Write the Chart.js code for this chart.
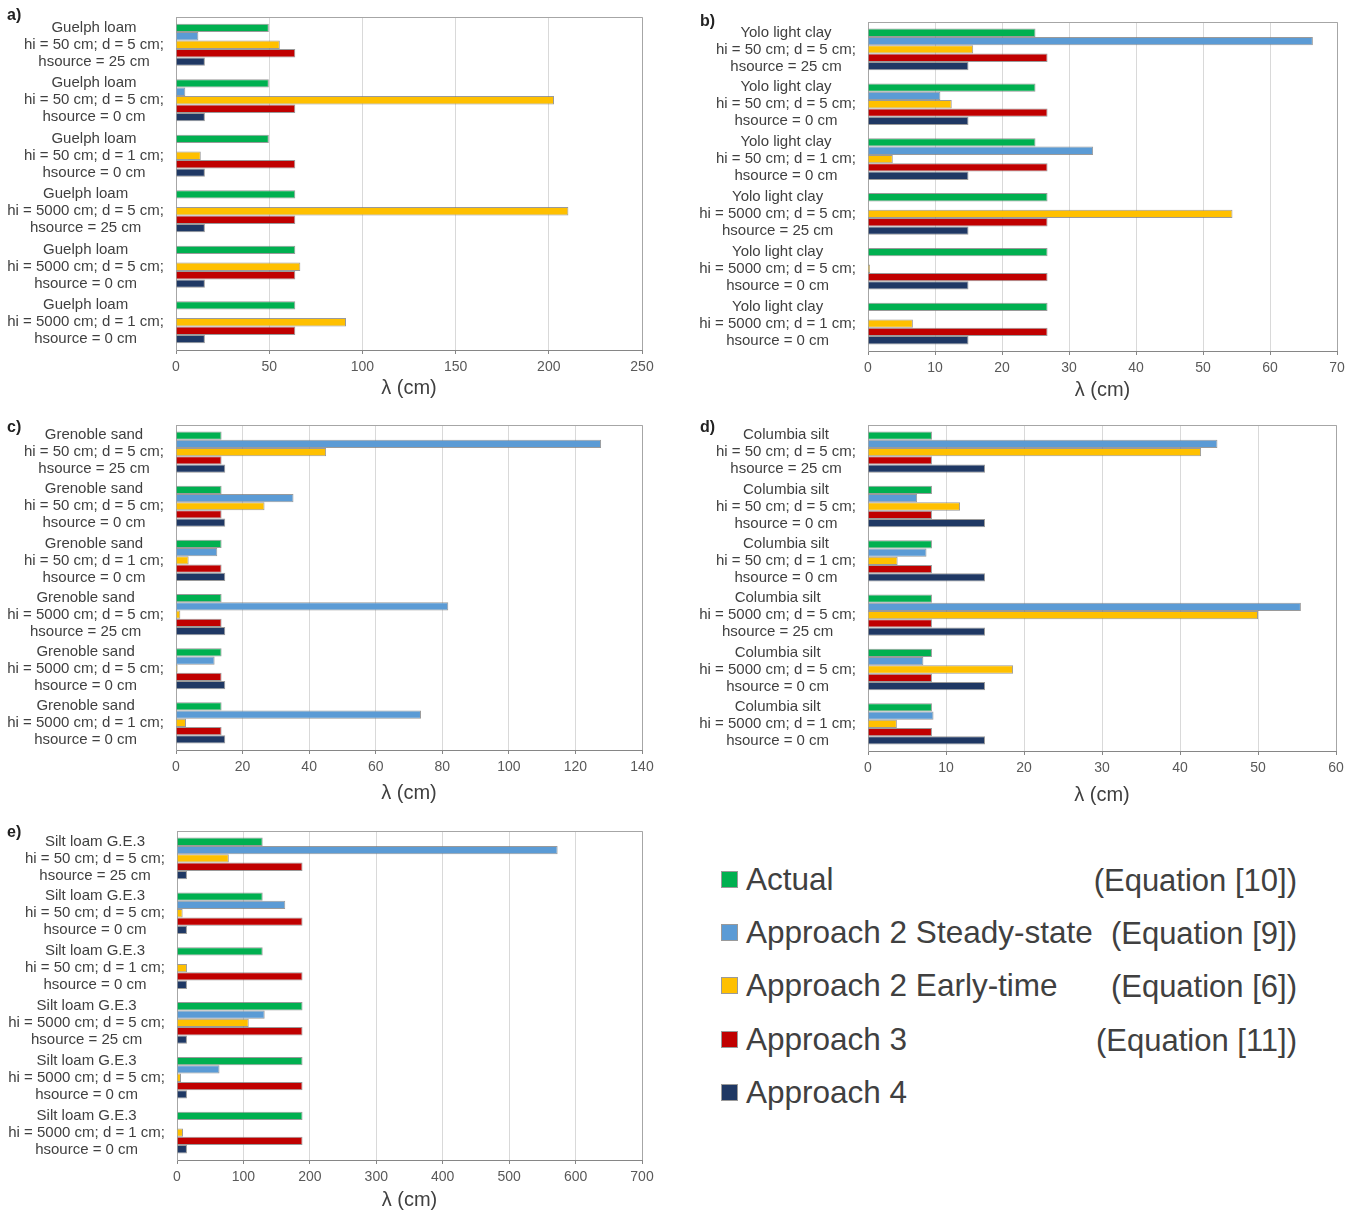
<!DOCTYPE html>
<html>
<head>
<meta charset="utf-8">
<script src="https://cdn.jsdelivr.net/npm/chart.js@4.4.1/dist/chart.umd.min.js"></script>
<style>
  body { margin: 0; background: #fff; font-family: "Liberation Sans", Arial, sans-serif; }
  #page { position: relative; width: 1359px; height: 1212px; overflow: hidden; }
  .panel { position: absolute; }
  .tag { position: absolute; font: bold 16px "Liberation Sans", Arial, sans-serif; color: #222; line-height: 1; }
  .legendRow { position: absolute; left: 721px; height: 36px; display: flex; align-items: center; color: #404040; font-size: 31.5px; white-space: nowrap; }
  .legendRow .box { width: 15px; height: 15px; border: 1px solid #9a9a9a; margin-right: 8px; }
  .eq { position: absolute; right: 62px; color: #404040; font-size: 31px; white-space: nowrap; line-height: 36px; }
</style>
</head>
<body>
<div id="page">
  <div class="panel" style="left:0;top:0;width:660px;height:400px"><canvas id="chartA"></canvas></div>
  <div class="panel" style="left:680px;top:0;width:679px;height:402px"><canvas id="chartB"></canvas></div>
  <div class="panel" style="left:0;top:405px;width:660px;height:400px"><canvas id="chartC"></canvas></div>
  <div class="panel" style="left:680px;top:405px;width:679px;height:402px"><canvas id="chartD"></canvas></div>
  <div class="panel" style="left:0;top:810px;width:660px;height:402px"><canvas id="chartE"></canvas></div>
  <div class="tag" style="left:7px;top:7px">a)</div>
  <div class="tag" style="left:700px;top:13px">b)</div>
  <div class="tag" style="left:7px;top:419px">c)</div>
  <div class="tag" style="left:700px;top:419px">d)</div>
  <div class="tag" style="left:7px;top:824px">e)</div>
  <div id="legend"></div>
</div>
<script>
// test conditions, same six for every soil
const hiLines = ["hi = 50 cm; d = 5 cm;", "hi = 50 cm; d = 5 cm;", "hi = 50 cm; d = 1 cm;",
                 "hi = 5000 cm; d = 5 cm;", "hi = 5000 cm; d = 5 cm;", "hi = 5000 cm; d = 1 cm;"];
const sourceLines = ["hsource = 25 cm", "hsource = 0 cm", "hsource = 0 cm",
                     "hsource = 25 cm", "hsource = 0 cm", "hsource = 0 cm"];

const seriesNames = ["Actual", "Approach 2 Steady-state", "Approach 2 Early-time", "Approach 3", "Approach 4"];
const seriesColors = ["#00b050", "#5b9bd5", "#ffc000", "#c00000", "#1f3864"];
const equationNotes = ["(Equation [10])", "(Equation [9])", "(Equation [6])", "(Equation [11])", ""];

// lambda (cm) per condition
const guelphActual = [49.8, 49.8, 49.8, 64, 64, 64];
const guelphSteady = [12, 5, null, null, null, null];
const guelphEarly  = [55.7, 202.8, 13.3, 210.5, 66.7, 91.2];
const guelphAppr3  = [64, 64, 64, 64, 64, 64];
const guelphAppr4  = [15.5, 15.5, 15.5, 15.5, 15.5, 15.5];

const yoloActual = [25, 25, 25, 26.8, 26.8, 26.8];
const yoloSteady = [66.4, 10.8, 33.6, null, null, null];
const yoloEarly  = [15.7, 12.5, 3.7, 54.4, 0.3, 6.7];
const yoloAppr3  = [26.8, 26.8, 26.8, 26.8, 26.8, 26.8];
const yoloAppr4  = [15, 15, 15, 15, 15, 15];

const grenobleActual = [13.7, 13.7, 13.7, 13.7, 13.7, 13.7];
const grenobleSteady = [127.7, 35.3, 12.4, 81.8, 11.6, 73.6];
const grenobleEarly  = [45.1, 26.6, 3.8, 1.3, 0.5, 3.0];
const grenobleAppr3  = [13.7, 13.7, 13.7, 13.7, 13.7, 13.7];
const grenobleAppr4  = [14.8, 14.8, 14.8, 14.8, 14.8, 14.8];

const columbiaActual = [8.2, 8.2, 8.2, 8.2, 8.2, 8.2];
const columbiaSteady = [44.8, 6.3, 7.5, 55.5, 7.1, 8.4];
const columbiaEarly  = [42.7, 11.8, 3.8, 50.0, 18.6, 3.7];
const columbiaAppr3  = [8.2, 8.2, 8.2, 8.2, 8.2, 8.2];
const columbiaAppr4  = [15, 15, 15, 15, 15, 15];

const siltActual = [129, 129, 129, 189, 189, 189];
const siltSteady = [573, 163, null, 132, 64, null];
const siltEarly  = [78, 8.5, 15, 108, 6, 9];
const siltAppr3  = [189, 189, 189, 189, 189, 189];
const siltAppr4  = [15, 15, 15, 15, 15, 15];

Chart.defaults.font.family = '"Liberation Sans", Arial, sans-serif';
Chart.defaults.animation = false;

function makeLabels(soil){
    const labels = [];
    for(var i = 0; i < hiLines.length; i++){
        labels.push([soil, hiLines[i], sourceLines[i]]);
    }
    return labels;
}

// category labels: lines centred on each other, block right aligned to the plot
const blockLabels = {
    id: 'blockLabels',
    afterDraw(chart){
        const ctx = chart.ctx;
        const yScale = chart.scales.y;
        ctx.save();
        ctx.font = '15px "Liberation Sans", Arial, sans-serif';
        ctx.fillStyle = '#404040';
        ctx.textAlign = 'center';
        ctx.textBaseline = 'middle';
        chart.data.labels.forEach(function(label, i){
            let w = 0;
            label.forEach(function(t){ w = Math.max(w, ctx.measureText(t).width); });
            const cx = chart.chartArea.left - 12 - w / 2;
            const cy = yScale.getPixelForTick(i);
            label.forEach(function(t, k){
                ctx.fillText(t, cx, cy + (k - (label.length - 1) / 2) * 17);
            });
        });
        ctx.restore();
    }
};

// top and right edge of the plot frame
const plotFrame = {
    id: 'plotFrame',
    afterDraw(chart){
        const a = chart.chartArea;
        const ctx = chart.ctx;
        ctx.save();
        ctx.strokeStyle = '#a6a6a6';
        ctx.lineWidth = 1;
        ctx.beginPath();
        ctx.moveTo(a.left, a.top + 0.5);
        ctx.lineTo(a.right + 0.5, a.top + 0.5);
        ctx.lineTo(a.right + 0.5, a.bottom);
        ctx.stroke();
        ctx.restore();
    }
};

function ShowPanel(id, soil, series, xMax, xStep, box){
    const datasets = [];
    for(var k = 0; k < series.length; k++){
        datasets.push({
            label: seriesNames[k],
            data: series[k],
            backgroundColor: seriesColors[k],
            borderColor: 'rgba(120,120,120,0.75)',
            borderWidth: 1,
            categoryPercentage: 0.76,
            barPercentage: 1.0
        });
    }
    const config = {
        type: 'bar',
        data: { labels: makeLabels(soil), datasets: datasets },
        options: {
            indexAxis: 'y',
            responsive: true,
            maintainAspectRatio: false,
            layout: { padding: { top: box.top, right: box.right, left: 0, bottom: 0 } },
            plugins: { legend: { display: false }, tooltip: { enabled: false } },
            scales: {
                x: {
                    min: 0, max: xMax,
                    ticks: { stepSize: xStep, color: '#595959', font: { size: 14 }, padding: 5 },
                    grid: { color: '#d9d9d9', tickColor: '#868686', tickLength: 4 },
                    border: { display: true, color: '#868686' },
                    title: { display: true, text: 'λ (cm)', color: '#404040', font: { size: 20 }, padding: 0 },
                    afterFit: function(scale){ scale.height = box.xHeight; }
                },
                y: {
                    ticks: { display: false },
                    grid: { display: false },
                    border: { display: true, color: '#a6a6a6' },
                    afterFit: function(scale){ scale.width = box.left; }
                }
            }
        },
        plugins: [blockLabels, plotFrame]
    };
    return new Chart(document.getElementById(id), config);
}

ShowPanel('chartA', 'Guelph loam',
    [guelphActual, guelphSteady, guelphEarly, guelphAppr3, guelphAppr4], 250, 50,
    { left: 176, top: 17, right: 18, xHeight: 50 });
ShowPanel('chartB', 'Yolo light clay',
    [yoloActual, yoloSteady, yoloEarly, yoloAppr3, yoloAppr4], 70, 10,
    { left: 188, top: 22, right: 22, xHeight: 51 });
ShowPanel('chartC', 'Grenoble sand',
    [grenobleActual, grenobleSteady, grenobleEarly, grenobleAppr3, grenobleAppr4], 140, 20,
    { left: 176, top: 20, right: 18, xHeight: 55 });
ShowPanel('chartD', 'Columbia silt',
    [columbiaActual, columbiaSteady, columbiaEarly, columbiaAppr3, columbiaAppr4], 60, 10,
    { left: 188, top: 20, right: 23, xHeight: 56 });
ShowPanel('chartE', 'Silt loam G.E.3',
    [siltActual, siltSteady, siltEarly, siltAppr3, siltAppr4], 700, 100,
    { left: 177, top: 21, right: 18, xHeight: 52 });

// shared legend
const legendRowY = [879, 932, 985, 1039, 1092];
const legendEl = document.getElementById('legend');
for(var i = 0; i < seriesNames.length; i++){
    const row = document.createElement('div');
    row.className = 'legendRow';
    row.style.top = (legendRowY[i] - 18) + 'px';
    row.innerHTML = '<span class="box" style="background:' + seriesColors[i] + '"></span>' + seriesNames[i];
    legendEl.append(row);
    if(equationNotes[i]){
        const eq = document.createElement('div');
        eq.className = 'eq';
        eq.style.top = (legendRowY[i] - 16) + 'px';
        eq.textContent = equationNotes[i];
        legendEl.append(eq);
    }
}
</script>
</body>
</html>
